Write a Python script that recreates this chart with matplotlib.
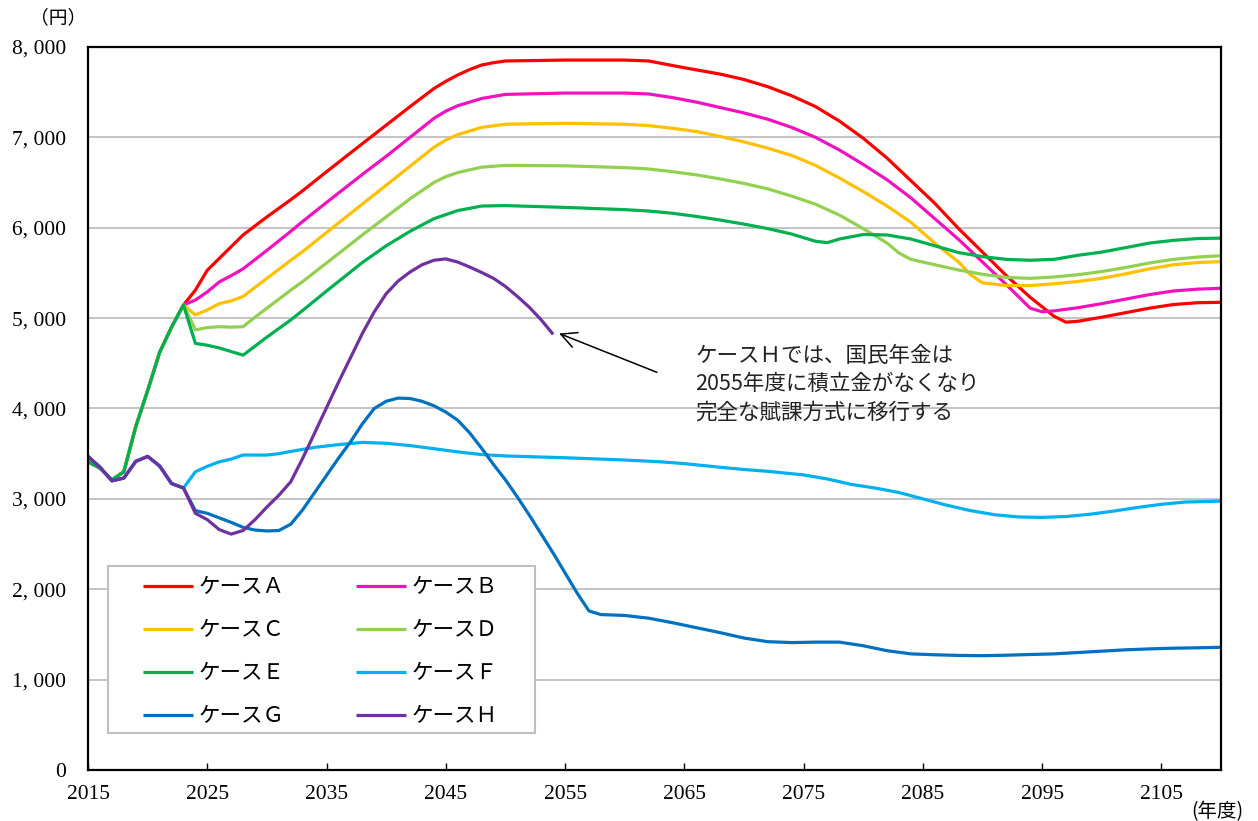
import matplotlib
matplotlib.use("Agg")
import matplotlib.pyplot as plt
from matplotlib.patches import Rectangle

# 共通部分（2015〜2023年度）
early_years = [2015, 2016, 2017, 2018, 2019, 2020, 2021, 2022, 2023]
upper_early = [3410, 3340, 3210, 3300, 3800, 4200, 4620, 4900, 5145]
lower_early = [3470, 3350, 3200, 3230, 3415, 3470, 3364, 3170, 3120]

# ケースA〜E（2024年度以降）
years_A = [2024, 2025, 2026, 2027, 2028, 2030, 2032, 2033, 2035, 2038, 2040, 2042, 2044,
           2045, 2046, 2047, 2048, 2049, 2050, 2055, 2060, 2062, 2063, 2065, 2068, 2070,
           2072, 2074, 2076, 2078, 2080, 2082, 2084, 2086, 2088, 2090, 2092, 2094, 2096,
           2097, 2098, 2100, 2102, 2104, 2106, 2108, 2110]
vals_A = [5310, 5530, 5660, 5790, 5920, 6120, 6310, 6410, 6620, 6930, 7135, 7340, 7540,
          7620, 7690, 7750, 7800, 7826, 7845, 7855, 7855, 7845, 7820, 7770, 7700, 7640,
          7560, 7460, 7340, 7180, 6990, 6770, 6520, 6270, 5990, 5730, 5470, 5230, 5020,
          4955, 4965, 5010, 5060, 5110, 5150, 5170, 5175]

years_B = [2024, 2025, 2026, 2027, 2028, 2030, 2032, 2033, 2035, 2038, 2040, 2042, 2044,
           2045, 2046, 2048, 2050, 2055, 2060, 2062, 2064, 2066, 2068, 2070, 2072, 2074,
           2076, 2078, 2080, 2082, 2084, 2086, 2088, 2090, 2092, 2094, 2095, 2096, 2098,
           2100, 2102, 2104, 2106, 2108, 2110]
vals_B = [5200, 5290, 5400, 5470, 5545, 5750, 5960, 6070, 6280, 6590, 6790, 7000, 7210,
          7290, 7350, 7430, 7475, 7490, 7490, 7480, 7440, 7390, 7330, 7270, 7200, 7110,
          7000, 6860, 6700, 6530, 6330, 6100, 5870, 5620, 5370, 5110, 5070, 5080, 5115,
          5160, 5210, 5260, 5300, 5320, 5330]

years_C = [2024, 2025, 2026, 2027, 2028, 2030, 2032, 2033, 2035, 2038, 2040, 2042, 2044,
           2045, 2046, 2048, 2050, 2055, 2060, 2062, 2064, 2066, 2068, 2070, 2072, 2074,
           2076, 2078, 2080, 2082, 2084, 2086, 2088, 2089, 2090, 2092, 2094, 2096, 2098,
           2100, 2102, 2104, 2106, 2108, 2110]
vals_C = [5035, 5090, 5160, 5190, 5240, 5440, 5640, 5737, 5947, 6262, 6470, 6680, 6890,
          6970, 7030, 7110, 7145, 7155, 7145, 7130, 7100, 7065, 7010, 6950, 6880, 6800,
          6690, 6550, 6400, 6240, 6060, 5830, 5620, 5480, 5390, 5360, 5360, 5380, 5405,
          5440, 5490, 5545, 5590, 5615, 5625]

years_D = [2024, 2025, 2026, 2027, 2028, 2029, 2030, 2032, 2033, 2035, 2038, 2040, 2042,
           2044, 2045, 2046, 2048, 2050, 2055, 2060, 2062, 2064, 2066, 2068, 2070, 2072,
           2074, 2076, 2078, 2080, 2082, 2083, 2084, 2086, 2088, 2090, 2092, 2094, 2096,
           2098, 2100, 2102, 2104, 2106, 2108, 2110]
vals_D = [4870, 4895, 4905, 4900, 4905, 5010, 5110, 5310, 5405, 5610, 5920, 6120, 6320,
          6500, 6565, 6610, 6670, 6690, 6685, 6665, 6650, 6620, 6585, 6540, 6490, 6430,
          6350, 6260, 6140, 5990, 5830, 5720, 5650, 5590, 5532, 5485, 5450, 5440, 5455,
          5480, 5515, 5560, 5610, 5650, 5675, 5690]

years_E = [2024, 2025, 2026, 2027, 2028, 2029, 2030, 2031, 2032, 2033, 2035, 2037, 2038,
           2040, 2042, 2044, 2045, 2046, 2048, 2050, 2055, 2060, 2062, 2064, 2066, 2068,
           2070, 2072, 2074, 2075, 2076, 2077, 2078, 2080, 2082, 2084, 2086, 2088, 2090,
           2092, 2094, 2096, 2098, 2100, 2102, 2104, 2106, 2108, 2110]
vals_E = [4720, 4700, 4670, 4630, 4590, 4690, 4790, 4885, 4980, 5085, 5300, 5510, 5615,
          5800, 5960, 6100, 6145, 6190, 6240, 6245, 6225, 6200, 6185, 6160, 6125, 6085,
          6040, 5990, 5930, 5890, 5850, 5835, 5875, 5925, 5920, 5875, 5800, 5725, 5680,
          5650, 5640, 5650, 5695, 5730, 5780, 5830, 5860, 5880, 5885]

# ケースF〜H（2024年度以降）
years_F = [2024, 2025, 2026, 2027, 2028, 2030, 2031, 2032, 2034, 2036, 2038, 2040, 2042,
           2044, 2046, 2048, 2050, 2055, 2058, 2060, 2063, 2065, 2068, 2070, 2072, 2075,
           2077, 2079, 2081, 2083, 2085, 2087, 2089, 2091, 2093, 2095, 2097, 2099, 2101,
           2103, 2105, 2107, 2110]
vals_F = [3300, 3360, 3410, 3440, 3485, 3485, 3500, 3525, 3570, 3600, 3625, 3615, 3590,
          3555, 3520, 3490, 3475, 3455, 3440, 3430, 3410, 3390, 3350, 3325, 3305, 3265,
          3220, 3160, 3120, 3070, 3000, 2930, 2870, 2825, 2800, 2795, 2805, 2830, 2865,
          2905, 2940, 2965, 2975]

years_G = [2024, 2025, 2026, 2027, 2028, 2029, 2030, 2031, 2032, 2033, 2034, 2035, 2036,
           2037, 2038, 2039, 2040, 2041, 2042, 2043, 2044, 2045, 2046, 2047, 2048, 2049,
           2050, 2051, 2052, 2053, 2054, 2055, 2056, 2057, 2058, 2060, 2062, 2064, 2066,
           2068, 2070, 2072, 2074, 2076, 2078, 2080, 2082, 2084, 2086, 2088, 2090, 2092,
           2094, 2096, 2098, 2100, 2102, 2104, 2106, 2108, 2110]
vals_G = [2870, 2840, 2790, 2740, 2685, 2655, 2645, 2650, 2720, 2880, 3070, 3260, 3450,
          3630, 3830, 4000, 4080, 4115, 4110, 4080, 4030, 3960, 3870, 3730, 3560, 3380,
          3210, 3020, 2820, 2610, 2400, 2180, 1960, 1760, 1720, 1710, 1680, 1630, 1575,
          1520, 1460, 1420, 1410, 1415, 1415, 1375, 1320, 1285, 1275, 1268, 1265, 1270,
          1278, 1285, 1300, 1315, 1330, 1340, 1348, 1352, 1358]

years_H = [2024, 2025, 2026, 2027, 2028, 2029, 2030, 2031, 2032, 2033, 2034, 2035, 2036,
           2037, 2038, 2039, 2040, 2041, 2042, 2043, 2044, 2045, 2046, 2047, 2048, 2049,
           2050, 2051, 2052, 2053, 2054]
vals_H = [2840, 2770, 2660, 2610, 2650, 2770, 2910, 3040, 3190, 3450, 3730, 4010, 4290,
          4560, 4830, 5070, 5270, 5410, 5510, 5590, 5640, 5655, 5620, 5565, 5505, 5440,
          5350, 5240, 5120, 4980, 4820]

labels = ['ケースＡ', 'ケースＢ', 'ケースＣ', 'ケースＤ',
          'ケースＥ', 'ケースＦ', 'ケースＧ', 'ケースＨ']
colors = ['#FF0000', '#F012BE', '#FFC000', '#92D050',
          '#00B050', '#00B0F0', '#0070C0', '#7030A0']

series = [
    (early_years + years_A, upper_early + vals_A),
    (early_years + years_B, upper_early + vals_B),
    (early_years + years_C, upper_early + vals_C),
    (early_years + years_D, upper_early + vals_D),
    (early_years + years_E, upper_early + vals_E),
    (early_years + years_F, lower_early + vals_F),
    (early_years + years_G, lower_early + vals_G),
    (early_years + years_H, lower_early + vals_H),
]

jp = ['Noto Sans CJK JP', 'DejaVu Sans']
num_font = ['Liberation Serif', 'Noto Sans CJK JP']

fig = plt.figure(figsize=(12.58, 8.21), dpi=100)
ax = fig.add_axes([0.070, 0.0621, 0.9006, 0.8807])

handles = []
for (x, y), lab, c in zip(series, labels, colors):
    h, = ax.plot(x, y, color=c, linewidth=2.3, label=lab, solid_capstyle='butt')
    handles.append(h)

ax.set_xlim(2015, 2110)
ax.set_ylim(0, 8000)
ax.set_xticks(range(2015, 2110, 10))
ax.set_yticks(range(0, 8001, 1000))
ax.set_yticklabels([f'{v:,}'.replace(',', ', ') for v in range(0, 8001, 1000)])
for lab in ax.get_xticklabels() + ax.get_yticklabels():
    lab.set_family(num_font)
    lab.set_fontsize(15.5)
ax.tick_params(axis='x', direction='in', length=5, width=1, pad=11)
ax.tick_params(axis='y', length=0, pad=16)

ax.grid(axis='y', color='#B4B4B4', linewidth=1.1)
ax.set_axisbelow(True)
for s in ax.spines.values():
    s.set_linewidth(1.6)
    s.set_color('black')

# 凡例（枠は自前で描く）
frame = Rectangle((0.0177, 0.0512), 0.3768, 0.231, transform=ax.transAxes,
                  facecolor='white', edgecolor='#BFBFBF', linewidth=1.5, zorder=3)
ax.add_patch(frame)
order = [0, 2, 4, 6, 1, 3, 5, 7]
leg = ax.legend([handles[i] for i in order], [labels[i] for i in order],
                ncol=2, loc='upper left', bbox_to_anchor=(0.0485, 0.268),
                frameon=False, borderpad=0, borderaxespad=0,
                handlelength=2.3, handletextpad=0.3, columnspacing=3.3,
                labelspacing=0.98, prop={'family': jp, 'size': 15.5})
leg.set_zorder(4)

# 注記
x_end, y_end = years_H[-1], vals_H[-1]
ax.annotate('', xy=(x_end + 0.5, y_end + 10), xytext=(x_end + 8.7, y_end - 420),
            arrowprops=dict(arrowstyle='->', color='black', lw=1.1,
                            mutation_scale=28, shrinkA=0, shrinkB=0))
ax.text(2065.9, 4700, 'ケースＨでは、国民年金は\n2055年度に積立金がなくなり\n完全な賦課方式に移行する',
        family=jp, fontsize=15.5, color='#222222', va='top', ha='left', linespacing=1.36)

fig.text(0.046, 0.979, '（円）', family=jp, fontsize=13.5, ha='center', va='center')
fig.text(0.968, 0.011, '(年度)', family=jp, fontsize=14, ha='center', va='center')

fig.savefig('out.png', dpi=100)
